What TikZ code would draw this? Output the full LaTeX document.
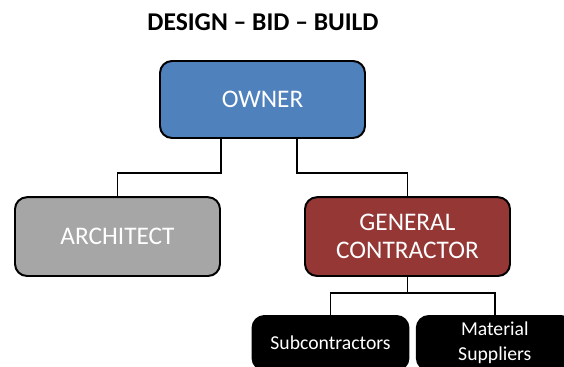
\documentclass[tikz,border=0pt]{standalone}
\usepackage{fontspec}
\setmainfont{Carlito}
\definecolor{ownerblue}{HTML}{4F81BD}
\definecolor{archgray}{HTML}{A6A6A6}
\definecolor{gcred}{HTML}{953735}
\tikzset{
  box/.style={draw=black, line width=1.4pt, rounded corners=0.3cm, text=white,
    align=center, inner sep=0pt},
  bigbox/.style={box, minimum width=5.125cm, font=\fontsize{18}{20}\selectfont},
  smallbox/.style={box, fill=black, minimum width=3.9cm, minimum height=1.35cm,
    font=\fontsize{14}{17.8}\selectfont},
  link/.style={line width=1.4pt}
}
\begin{document}
\begin{tikzpicture}
  \useasboundingbox (0,0) rectangle (14.1,9.175);
  \clip (0,0) rectangle (14.1,9.175);

  \node[font=\fontsize{18.2}{20}\selectfont\bfseries] (title) at (6.575, 8.625) {DESIGN -- BID -- BUILD};

  %% top
  \node[bigbox, fill=ownerblue, minimum height=1.925cm] (owner) at (6.5625, 6.6875) {OWNER};

  %% second row
  \node[bigbox, fill=archgray, minimum height=1.97cm] (arch) at (2.9375, 3.26) {ARCHITECT};
  \node[bigbox, fill=gcred, minimum height=1.97cm] (gc) at (10.1875, 3.26) {GENERAL\\CONTRACTOR};

  %% under the contractor
  \node[smallbox] (sub) at (8.2625, 0.6) {Subcontractors};
  \node[smallbox] (mat) at (12.37, 0.6) {Material\\Suppliers};

  \draw[link] ([xshift=-1.04cm]owner.south) -- ++(0,-0.85) -| (arch.north);
  \draw[link] ([xshift=0.86cm]owner.south) -- ++(0,-0.85) -| (gc.north);
  \draw[link] (gc.south) -- ++(0,-0.4) coordinate (split);
  \draw[link] (split) -| (sub.north);
  \draw[link] (split) -| (mat.north);
\end{tikzpicture}
\end{document}
